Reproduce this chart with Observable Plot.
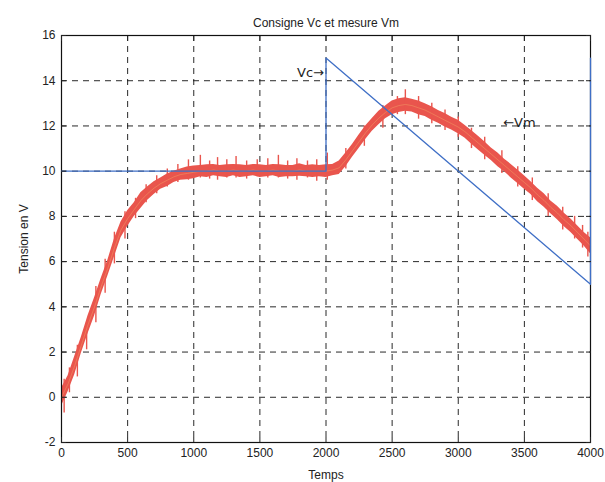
<!DOCTYPE html>
<html>
<head>
<meta charset="utf-8">
<script src="https://cdn.jsdelivr.net/npm/d3@7"></script>
<script src="https://cdn.jsdelivr.net/npm/@observablehq/plot@0.6"></script>
<style>
  html, body { margin: 0; padding: 0; background: #fff; }
  #chart svg { display: block; }
</style>
</head>
<body>
<div id="chart"></div>
<script>
// ---- Data ----
const xTicks = [0, 500, 1000, 1500, 2000, 2500, 3000, 3500, 4000];
const yTicks = [-2, 0, 2, 4, 6, 8, 10, 12, 14, 16];

// Consigne Vc (setpoint)
const vcTime = [0, 2000, 2000, 4000, 4000];
const vcValue = [10, 10, 15, 5, 15];

// Mesure Vm (measurement), sampled every 50 time units: centre of the noisy trace
const vmTime = d3.range(0, 4001, 50);
const vmValue = [
  0.0, 0.6, 1.4, 2.3, 3.2, 4.0, 4.9, 5.7, 6.6, 7.4,
  7.9, 8.3, 8.7, 9.0, 9.25, 9.45, 9.6, 9.75, 9.85, 9.9,
  9.95, 10.0, 10.0, 10.05, 10.0, 10.0, 10.05, 10.0, 10.0, 10.05,
  10.0, 10.0, 10.05, 10.0, 10.0, 10.0, 10.05, 10.0, 10.0, 10.0,
  10.0, 10.05, 10.15, 10.5, 10.9, 11.3, 11.7, 12.05, 12.35, 12.6,
  12.8, 12.9, 12.95, 12.9, 12.8, 12.7, 12.55, 12.4, 12.25, 12.1,
  11.95, 11.75, 11.5, 11.25, 11.0, 10.75, 10.5, 10.25, 10.0, 9.75,
  9.5, 9.25, 8.95, 8.7, 8.4, 8.15, 7.85, 7.6, 7.3, 7.0,
  6.7
];
// half-width of the noise band around the centre
const vmNoise = [
  0.4, 0.35, 0.4, 0.35, 0.4, 0.4, 0.35, 0.35, 0.4, 0.35,
  0.35, 0.3, 0.35, 0.3, 0.28, 0.25, 0.28, 0.25, 0.25, 0.28,
  0.28, 0.25, 0.28, 0.25, 0.25, 0.28, 0.25, 0.28, 0.25, 0.25,
  0.28, 0.25, 0.25, 0.28, 0.25, 0.25, 0.28, 0.25, 0.28, 0.25,
  0.28, 0.25, 0.3, 0.3, 0.28, 0.3, 0.3, 0.28, 0.3, 0.28,
  0.3, 0.3, 0.3, 0.28, 0.3, 0.28, 0.3, 0.28, 0.3, 0.28,
  0.3, 0.28, 0.3, 0.3, 0.3, 0.28, 0.3, 0.28, 0.3, 0.3,
  0.3, 0.28, 0.3, 0.3, 0.28, 0.3, 0.3, 0.3, 0.3, 0.3,
  0.35
];
// visible spikes in the trace: time, low, high
const spikeTime = [
  20, 60, 120, 190, 260, 330, 400, 480, 560, 640, 720, 800, 880, 960,
  1050, 1120, 1180, 1250, 1320, 1400, 1480, 1560, 1640, 1710, 1780, 1860, 1930, 2010,
  2150, 2290, 2430, 2540, 2600, 2700, 2800, 2900, 3000, 3100, 3200, 3330, 3450, 3560, 3680, 3790, 3880, 3940, 3980
];
const spikeLow = [
  -0.7, 0.2, 0.9, 2.1, 3.3, 4.6, 5.9, 7.0, 7.9, 8.6, 9.0, 9.3, 9.5, 9.6,
  9.7, 9.65, 9.6, 9.7, 9.7, 9.65, 9.75, 9.7, 9.7, 9.65, 9.6, 9.7, 9.55, 9.6,
  10.1, 11.1, 11.9, 12.5, 12.5, 12.3, 12.1, 11.8, 11.5, 11.0, 10.5, 9.9, 9.3, 8.7, 8.0, 7.4, 7.0, 6.6, 6.2
];
const spikeHigh = [
  0.8, 1.3, 2.3, 3.3, 4.9, 6.1, 7.3, 8.2, 8.8, 9.4, 9.8, 10.1, 10.3, 10.5,
  10.7, 10.45, 10.6, 10.5, 10.65, 10.45, 10.5, 10.55, 10.7, 10.45, 10.55, 10.45, 10.5, 10.8,
  11.0, 12.0, 12.9, 13.3, 13.6, 13.3, 13.0, 12.7, 12.4, 11.9, 11.5, 10.9, 10.2, 9.7, 9.0, 8.4, 8.0, 7.6, 7.3
];

// ---- Tables built from the arrays ----
const vc = vcTime.map((t, i) => ({t, v: vcValue[i]}));
const vm = vmTime.map((t, i) => ({t, v: vmValue[i], lo: vmValue[i] - vmNoise[i], hi: vmValue[i] + vmNoise[i]}));
const spikes = spikeTime.map((t, i) => ({t, lo: spikeLow[i], hi: spikeHigh[i]}));

const font = "'Liberation Sans', Arial, Helvetica, sans-serif";
const red = "#e9554d";
const blue = "#3f6fc6";
const fmt = d => String(d);

const chart = Plot.plot({
  width: 605,
  height: 482,
  marginLeft: 61,
  marginRight: 15,
  marginTop: 35,
  marginBottom: 40,
  style: {fontFamily: font, fontSize: "12px", background: "#fff", color: "#222"},
  x: {domain: [0, 4000]},
  y: {domain: [-2, 16]},
  marks: [
    Plot.gridX(xTicks, {stroke: "#111", strokeOpacity: 1, strokeWidth: 0.9, strokeDasharray: "6,5"}),
    Plot.gridY(yTicks, {stroke: "#111", strokeOpacity: 1, strokeWidth: 0.9, strokeDasharray: "6,5"}),
    Plot.areaY(vm, {x: "t", y1: "lo", y2: "hi", fill: red, curve: "linear"}),
    Plot.ruleX(spikes, {x: "t", y1: "lo", y2: "hi", stroke: red, strokeWidth: 1.4}),
    Plot.lineY(vm, {x: "t", y: "v", stroke: "#f2a066", strokeWidth: 0.8, strokeOpacity: 0.6}),
    Plot.frame({stroke: "#111", strokeWidth: 1.2}),
    Plot.line(vc, {x: "t", y: "v", stroke: blue, strokeWidth: 1.3}),
    Plot.text(["Vc\u2192"], {x: 1985, y: 14.35, textAnchor: "end", fontSize: 13, fontFamily: "'DejaVu Sans', sans-serif", fill: "#222"}),
    Plot.text(["\u2190Vm"], {x: 3340, y: 12.15, textAnchor: "start", fontSize: 13, fontFamily: "'DejaVu Sans', sans-serif", fill: "#222"}),
    Plot.axisX(xTicks, {anchor: "bottom", tickSize: 0, tickPadding: 6, tickFormat: fmt, label: "Temps", labelAnchor: "center", labelArrow: "none", labelOffset: 36, fontSize: 12}),
    Plot.axisY(yTicks, {anchor: "left", tickSize: 0, tickPadding: 6, tickFormat: fmt, label: "Tension en V", labelAnchor: "center", labelOffset: 42, labelArrow: "none", fontSize: 12}),
    Plot.axisX(xTicks, {anchor: "bottom", tickSize: -5, text: null, label: null}),
    Plot.axisX(xTicks, {anchor: "top", tickSize: -5, text: null, label: null}),
    Plot.axisY(yTicks, {anchor: "left", tickSize: -5, text: null, label: null}),
    Plot.axisY(yTicks, {anchor: "right", tickSize: -5, text: null, label: null}),
    Plot.text(["Consigne Vc et mesure Vm"], {frameAnchor: "top", dy: -17, fontSize: 12, fill: "#222"})
  ]
});
document.getElementById("chart").appendChild(chart);
</script>
</body>
</html>
